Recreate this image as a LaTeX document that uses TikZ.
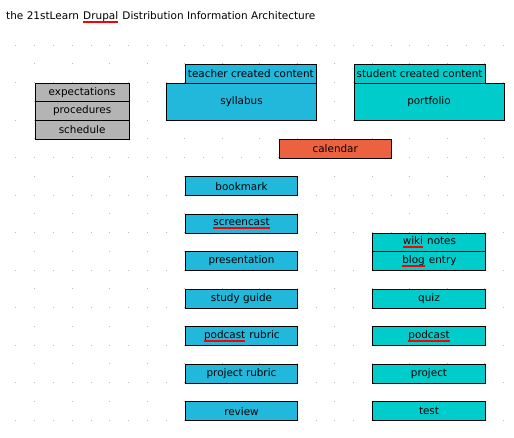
\documentclass[tikz,border=0pt]{standalone}
\usepackage{fontspec}
\setmainfont{DejaVu Sans}
\definecolor{teacherblue}{HTML}{22B8DC}
\definecolor{studentcyan}{HTML}{00CCCC}
\definecolor{basicsgray}{HTML}{B4B4B4}
\definecolor{calendarred}{HTML}{EC6240}
\definecolor{dotgray}{HTML}{BBBBBB}
\definecolor{spellred}{HTML}{FF0000}
\newcommand\spellmark[1]{\tikz[baseline=(w.base)]{%
  \node[inner sep=0pt, outer sep=0pt, draw=none, fill=none, minimum width=0pt,
    minimum height=0pt, anchor=base] (w) at (0,0) {#1};
  \draw[spellred, line width=1.6pt] ([yshift=-2.6pt]w.base west) -- ([yshift=-2.6pt]w.base east);}}
\tikzset{
  cell/.style={draw=black, line width=1pt, anchor=north west, inner sep=0pt,
    minimum height=18.75pt, font=\fontsize{10.4}{12}\selectfont},
  basics/.style={cell, fill=basicsgray, minimum width=93.75pt},
  teacher/.style={cell, fill=teacherblue, minimum width=112.5pt},
  student/.style={cell, fill=studentcyan, minimum width=112.5pt},
  header/.style={minimum width=131.25pt},
  big/.style={minimum width=150pt, minimum height=37.5pt},
}

\begin{document}
\begin{tikzpicture}[x=18.75pt, y=-18.75pt]
\useasboundingbox (-0.8533,-2.4) rectangle (26.56,20.9067);

\foreach \j in {0,...,20}
  \foreach \i in {0,...,26}{
    \ifodd\j
      \ifodd\i \fill[dotgray] (\i,\j) ++(-0.5pt,-0.5pt) rectangle ++(1pt,1pt);\fi
    \else
      \fill[dotgray] (\i,\j) ++(-0.5pt,-0.5pt) rectangle ++(1pt,1pt);
    \fi
  }

\node[anchor=west, font=\fontsize{10.5}{12}\selectfont, inner sep=0pt] (title) at (-0.533,-1.49)
  {the 21stLearn \spellmark{Drupal} Distribution Information Architecture};

\node[basics] (expectations) at (1,2) {expectations};
\node[basics] (procedures) at (1,3) {procedures};
\node[basics] (schedule) at (1,4) {schedule};

\node[teacher, header] (teacherhead) at (9,1) {teacher created content};
\node[teacher, big] (syllabus) at (8,2) {syllabus};
\node[student, header] (studenthead) at (18,1) {student created content};
\node[student, big] (portfolio) at (18,2) {portfolio};

\node[cell, fill=calendarred, minimum width=112.5pt] (calendar) at (14,5) {calendar};

\node[teacher] (bookmark) at (9,7) {bookmark};
\node[teacher] (screencast) at (9,9) {\spellmark{screencast}};
\node[teacher] (presentation) at (9,11) {presentation};
\node[teacher] (studyguide) at (9,13) {study guide};
\node[teacher] (podcastrubric) at (9,15) {\spellmark{podcast} rubric};
\node[teacher] (projectrubric) at (9,17) {project rubric};
\node[teacher] (review) at (9,19) {review};

\node[student] (wikinotes) at (19,10) {\spellmark{wiki} notes};
\node[student] (blogentry) at (19,11) {\spellmark{blog} entry};
\node[student] (quiz) at (19,13) {quiz};
\node[student] (podcast) at (19,15) {\spellmark{podcast}};
\node[student] (project) at (19,17) {project};
\node[student] (test) at (19,19) {test};
\end{tikzpicture}
\end{document}
